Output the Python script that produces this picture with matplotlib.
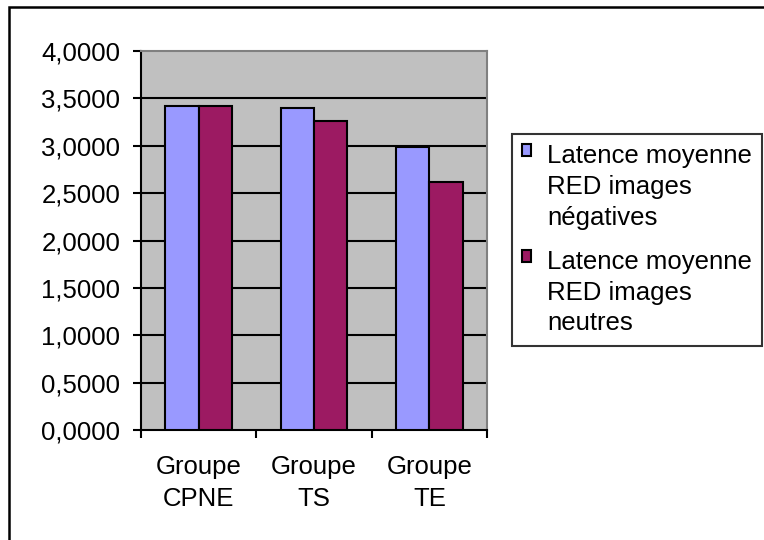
import numpy as np
import matplotlib.pyplot as plt
from matplotlib.patches import Rectangle

plt.rcParams['font.family'] = ['Liberation Sans', 'DejaVu Sans']

groups = ['Groupe\nCPNE', 'Groupe\nTS', 'Groupe\nTE']
neg = [3.42, 3.40, 2.99]
neu = [3.42, 3.26, 2.62]
labels = ['Latence moyenne\nRED images\nnégatives', 'Latence moyenne\nRED images\nneutres']
yticks = np.arange(0, 4.01, 0.5)

fs = 18.5

fig = plt.figure(figsize=(7.64, 5.40), dpi=100)
ax = fig.add_axes([141 / 764, 1 - 430 / 540, 346 / 764, 379 / 540])
ax.set_facecolor('#c0c0c0')

x = np.arange(len(groups))
w = 0.29
b1 = ax.bar(x - w / 2, neg, w, color='#9999ff', edgecolor='black', linewidth=1.5,
            label=labels[0], zorder=3)
b2 = ax.bar(x + w / 2, neu, w, color='#9c1a62', edgecolor='black', linewidth=1.5,
            label=labels[1], zorder=3)

ax.set_xlim(-0.5, 2.5)
ax.set_ylim(0, 4)
ax.set_yticks(yticks)
ax.set_yticklabels([('%.4f' % v).replace('.', ',') for v in yticks])
for v in yticks[1:-1]:
    ax.axhline(v, color='black', linewidth=1.5, zorder=1)

ax.set_xticks([-0.5, 0.5, 1.5, 2.5])
ax.set_xticklabels([])
ax.set_xticks(x, minor=True)
ax.set_xticklabels(groups, minor=True, fontsize=fs, linespacing=1.4)
ax.tick_params(axis='x', which='minor', length=0, pad=18)
ax.tick_params(axis='x', which='major', length=6, width=1.5, direction='out')
ax.tick_params(axis='y', length=6, width=1.5, labelsize=fs, pad=9)

for s in ['top', 'right']:
    ax.spines[s].set_color('#808080')
    ax.spines[s].set_linewidth(1.5)
for s in ['left', 'bottom']:
    ax.spines[s].set_color('black')
    ax.spines[s].set_linewidth(1.5)

leg = fig.legend(handles=[b1, b2], loc='upper left', bbox_to_anchor=(512 / 764, 1 - 134 / 540),
                 fontsize=fs, frameon=True, fancybox=False, edgecolor='black',
                 handlelength=0.32, handleheight=0.32, handletextpad=0.65,
                 labelspacing=0.8, borderpad=0.4, borderaxespad=0)
leg.get_frame().set_linewidth(1.5)
for t in leg.get_texts():
    t.set_linespacing(1.35)
# put the squares next to the first line of each entry
for col in leg._legend_handle_box.get_children():
    for item in col.get_children():
        item.align = 'top'

fig.patches.append(Rectangle((9 / 764, -0.1), 1.2, 1 - 7 / 540 + 0.1,
                             transform=fig.transFigure, fill=False,
                             edgecolor='black', linewidth=1.8))

fig.savefig('out.png', dpi=100)
